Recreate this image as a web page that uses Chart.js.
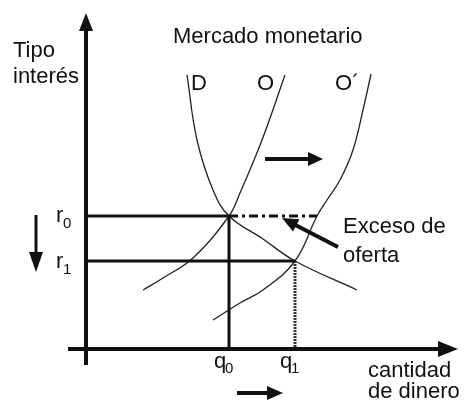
<!DOCTYPE html>
<html>
<head>
<meta charset="utf-8">
<script src="https://cdn.jsdelivr.net/npm/chart.js"></script>
<style>
  html, body { margin: 0; padding: 0; background: #fff; }
  #wrap { width: 466px; height: 403px; }
</style>
</head>
<body>
<div id="wrap"><canvas id="chart"></canvas></div>
<script>
// ===============================
// Data (cantidad de dinero / tipo de interés)
// ===============================
const demandQ = [10.1, 11.1, 12.7, 14.3, 17.7, 20.9, 27.1];
const demandR = [27.4, 20.9, 15.9, 13.3, 11.0, 8.8, 5.9];

const supplyQ = [19.9, 17.6, 15.4, 14.3, 10.7, 7.7, 5.7];
const supplyR = [27.4, 20.9, 15.6, 13.3, 9.1, 7.1, 5.9];

const supplyNewQ = [28.5, 27.7, 26.7, 25.4, 24.1, 23.1, 20.9, 17.7, 15.4, 12.7];
const supplyNewR = [27.5, 23.9, 19.9, 16.9, 14.9, 13.3, 8.8, 5.9, 4.6, 2.9];

const eqQ = [14.3, 20.9];       // q0, q1
const eqR = [13.3, 8.8];        // r0, r1
const excessQ = 23.1;           // O´ at r0
const subLabels = ["0", "1"];

const curveLabels = ["D", "O", "O\u00b4"];

const toPoints = (xs, ys) => xs.map((v, i) => ({ x: v, y: ys[i] }));

document.addEventListener("DOMContentLoaded", () => {
  const FONT = '"Liberation Sans", Arial, sans-serif';
  const INK = "#111";

  // arrows & text in chart units
  const arrows = [
    { from: [0, -1.6], to: [0, 33.6], w: 4, len: 18, half: 7 },
    { from: [-1.8, 0], to: [37.2, 0], w: 4, len: 20, half: 8 },
    { from: [17.9, 19.0], to: [23.7, 19.0], w: 4, len: 15, half: 7 },
    { from: [25.2, 10.2], to: [19.6, 13.1], w: 4, len: 16, half: 7 },
    { from: [-5.0, 13.4], to: [-5.0, 7.7], w: 3, len: 20, half: 7 },
    { from: [15.1, -4.4], to: [19.7, -4.4], w: 4, len: 16, half: 7 }
  ];

  const texts = [
    { t: "Mercado monetario", x: 8.7, y: 30.6 },
    { t: "Tipo", x: -7.3, y: 29.2 },
    { t: "interés", x: -7.3, y: 26.6 },
    { t: curveLabels[0], x: 10.5, y: 25.9 },
    { t: curveLabels[1], x: 17.1, y: 25.9 },
    { t: curveLabels[2], x: 24.9, y: 25.9 },
    { t: "Exceso de", x: 25.7, y: 11.6 },
    { t: "oferta", x: 25.7, y: 8.7 },
    { t: "cantidad", x: 28.2, y: -2.8 },
    { t: "de dinero", x: 28.2, y: -4.9 }
  ];

  const annotations = {
    id: "annotations",
    afterDatasetsDraw(chart) {
      const { ctx, scales: { x, y } } = chart;
      ctx.save();
      ctx.fillStyle = INK;
      ctx.strokeStyle = INK;

      arrows.forEach(a => {
        const x1 = x.getPixelForValue(a.from[0]), y1 = y.getPixelForValue(a.from[1]);
        const x2 = x.getPixelForValue(a.to[0]), y2 = y.getPixelForValue(a.to[1]);
        const ang = Math.atan2(y2 - y1, x2 - x1);
        const bx = x2 - Math.cos(ang) * a.len, by = y2 - Math.sin(ang) * a.len;
        ctx.lineWidth = a.w;
        ctx.lineCap = "butt";
        ctx.beginPath();
        ctx.moveTo(x1, y1);
        ctx.lineTo(bx + Math.cos(ang) * 2, by + Math.sin(ang) * 2);
        ctx.stroke();
        ctx.beginPath();
        ctx.moveTo(x2, y2);
        ctx.lineTo(bx - Math.sin(ang) * a.half, by + Math.cos(ang) * a.half);
        ctx.lineTo(bx + Math.sin(ang) * a.half, by - Math.cos(ang) * a.half);
        ctx.closePath();
        ctx.fill();
      });

      ctx.textAlign = "left";
      ctx.textBaseline = "alphabetic";
      ctx.font = "22px " + FONT;
      texts.forEach(s => {
        ctx.fillText(s.t, x.getPixelForValue(s.x), y.getPixelForValue(s.y));
      });

      // r0, r1 and q0, q1 labels with subscripts
      eqR.forEach((r, i) => {
        const px = x.getPixelForValue(-3.0), py = y.getPixelForValue(r - 0.6 - i * 0.1);
        ctx.font = "22px " + FONT;
        ctx.fillText("r", px, py);
        ctx.font = "15px " + FONT;
        ctx.fillText(subLabels[i], px + 7, py + 6);
      });
      eqQ.forEach((q, i) => {
        const px = x.getPixelForValue(q - 1.5), py = y.getPixelForValue(-1.9);
        ctx.font = "22px " + FONT;
        ctx.fillText("q", px, py);
        ctx.font = "15px " + FONT;
        ctx.fillText(subLabels[i], px + 11, py + 5);
      });
      ctx.restore();
    }
  };

  const curve = (label, pts) => ({
    label,
    data: pts,
    showLine: true,
    borderColor: "#222",
    borderWidth: 1.3,
    pointRadius: 0,
    tension: 0.4
  });

  const guide = (label, pts, extra) => Object.assign({
    label,
    data: pts,
    showLine: true,
    borderColor: INK,
    borderWidth: 3,
    pointRadius: 0,
    tension: 0,
    borderJoinStyle: "miter"
  }, extra || {});

  new Chart(document.getElementById("chart"), {
    type: "scatter",
    data: {
      datasets: [
        guide("r0", [{ x: 0, y: eqR[0] }, { x: eqQ[0], y: eqR[0] }]),
        guide("exceso", [{ x: eqQ[0], y: eqR[0] }, { x: excessQ, y: eqR[0] }], { borderDash: [9, 4, 3, 4] }),
        guide("r1", [{ x: 0, y: eqR[1] }, { x: eqQ[1], y: eqR[1] }]),
        guide("q0", [{ x: eqQ[0], y: eqR[0] }, { x: eqQ[0], y: 0 }]),
        guide("q1", [{ x: eqQ[1], y: eqR[1] }, { x: eqQ[1], y: 0 }], { borderDash: [2, 1], borderColor: "#333" }),
        curve("D", toPoints(demandQ, demandR)),
        curve("O", toPoints(supplyQ, supplyR)),
        curve("O\u00b4", toPoints(supplyNewQ, supplyNewR))
      ]
    },
    options: {
      responsive: true,
      maintainAspectRatio: false,
      animation: false,
      layout: { padding: 0 },
      plugins: {
        legend: { display: false },
        tooltip: { enabled: false }
      },
      scales: {
        x: { type: "linear", min: -8.6, max: 38.0, display: false },
        y: { type: "linear", min: -5.4, max: 34.9, display: false }
      }
    },
    plugins: [annotations]
  });
});
</script>
</body>
</html>
